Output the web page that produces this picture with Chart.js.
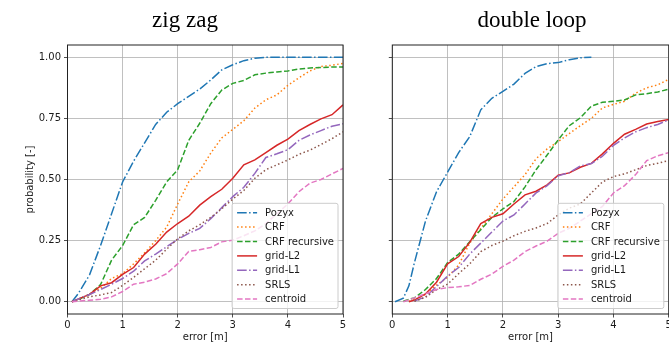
<!DOCTYPE html>
<html>
<head>
<meta charset="utf-8">
<script src="https://cdn.jsdelivr.net/npm/chart.js@4.4.1/dist/chart.umd.min.js"></script>
<style>
html,body{margin:0;padding:0;background:#fff;overflow:hidden;width:669px;height:349px;}
#wrap{position:relative;width:669px;height:349px;overflow:hidden;background:#fff;}
.box{position:absolute;top:0;}
.ttl{position:absolute;top:8px;width:200px;text-align:center;font-family:'Liberation Serif','Times New Roman',serif;font-size:23px;line-height:23px;color:#000;white-space:nowrap;}
</style>
</head>
<body>
<div id="wrap">
  <div class="box" style="left:0;width:350px;height:349px"><canvas id="c1" width="350" height="349"></canvas></div>
  <div class="box" style="left:350px;width:330px;height:349px"><canvas id="c2" width="330" height="349"></canvas></div>
  <div class="ttl" style="left:85px">zig zag</div>
  <div class="ttl" style="left:432px">double loop</div>
</div>
<script>
// ---------- data ----------
const seriesNames = ['Pozyx', 'CRF', 'CRF recursive', 'grid-L2', 'grid-L1', 'SRLS', 'centroid'];
const xTicks = [0, 1, 2, 3, 4, 5];
const xTickLabels = ['0', '1', '2', '3', '4', '5'];
const yTicks = [0, 0.25, 0.5, 0.75, 1.0];
const yTickLabels = ['0.00', '0.25', '0.50', '0.75', '1.00'];

// zig zag (left panel)
const zigzagError = [0.08,0.2,0.4,0.6,0.8,1.0,1.2,1.4,1.6,1.8,2.0,2.2,2.4,2.6,2.8,3.0,3.2,3.4,3.6,3.8,4.0,4.2,4.4,4.6,4.8,5.0];
const zigzagPozyx    = [0,0.035,0.11,0.23,0.36,0.49,0.575,0.65,0.725,0.775,0.81,0.84,0.87,0.907,0.948,0.969,0.986,0.996,1,1,1,1,1,1,1,1];
const zigzagCRF      = [0,0.01,0.03,0.055,0.095,0.115,0.155,0.2,0.25,0.305,0.40,0.49,0.535,0.608,0.67,0.705,0.74,0.792,0.826,0.846,0.885,0.916,0.944,0.962,0.967,0.975];
const zigzagCRFrec   = [0,0.01,0.03,0.07,0.17,0.23,0.315,0.345,0.415,0.49,0.54,0.66,0.73,0.81,0.866,0.893,0.905,0.928,0.935,0.94,0.944,0.952,0.956,0.958,0.96,0.96];
const zigzagGridL2   = [0,0.012,0.03,0.065,0.078,0.112,0.14,0.195,0.235,0.285,0.32,0.35,0.395,0.43,0.46,0.505,0.56,0.58,0.61,0.64,0.665,0.70,0.725,0.748,0.765,0.805];
const zigzagGridL1   = [0,0.012,0.03,0.05,0.072,0.095,0.125,0.167,0.195,0.225,0.255,0.28,0.30,0.34,0.385,0.43,0.468,0.525,0.59,0.605,0.622,0.66,0.682,0.70,0.718,0.728];
const zigzagSRLS     = [0,0.008,0.02,0.028,0.038,0.067,0.10,0.135,0.17,0.215,0.257,0.29,0.315,0.345,0.38,0.42,0.455,0.505,0.54,0.56,0.58,0.603,0.62,0.643,0.667,0.695];
const zigzagCentroid = [0,0.003,0.006,0.01,0.02,0.042,0.072,0.08,0.093,0.115,0.155,0.206,0.213,0.222,0.245,0.252,0.27,0.29,0.32,0.36,0.40,0.45,0.485,0.50,0.523,0.545];

// double loop (right panel)
const loopError = [0.05,0.2,0.3,0.4,0.6,0.8,1.0,1.2,1.4,1.6,1.8,2.0,2.2,2.4,2.6,2.8,3.0,3.2,3.4,3.6,3.8,4.0,4.2,4.4,4.6,4.8,5.0];
const loopPozyx    = [0,0.015,0.065,0.16,0.33,0.45,0.53,0.61,0.675,0.785,0.832,0.86,0.89,0.934,0.962,0.974,0.978,0.99,0.998,1.0,null,null,null,null,null,null,null];
const loopCRF      = [null,null,0.002,0.008,0.03,0.068,0.10,0.15,0.24,0.30,0.36,0.42,0.47,0.52,0.585,0.625,0.655,0.688,0.72,0.75,0.793,0.807,0.82,0.853,0.875,0.887,0.91];
const loopCRFrec   = [null,0.002,0.01,0.016,0.05,0.095,0.16,0.195,0.245,0.295,0.345,0.38,0.41,0.47,0.54,0.60,0.662,0.72,0.752,0.80,0.816,0.82,0.825,0.846,0.851,0.858,0.869];
const loopGridL2   = [null,null,0.0,0.007,0.032,0.08,0.155,0.185,0.243,0.32,0.345,0.36,0.40,0.437,0.452,0.478,0.518,0.527,0.55,0.566,0.605,0.648,0.685,0.705,0.727,0.737,0.745];
const loopGridL1   = [null,null,null,0.003,0.02,0.062,0.105,0.14,0.195,0.24,0.285,0.33,0.355,0.40,0.445,0.475,0.515,0.528,0.555,0.565,0.595,0.64,0.67,0.695,0.712,0.725,0.744];
const loopSRLS     = [null,null,null,0.002,0.018,0.05,0.072,0.115,0.155,0.205,0.23,0.248,0.27,0.288,0.302,0.32,0.355,0.383,0.40,0.445,0.49,0.512,0.523,0.54,0.557,0.566,0.578];
const loopCentroid = [null,0.0,0.008,0.016,0.033,0.05,0.058,0.061,0.067,0.092,0.113,0.145,0.17,0.205,0.228,0.248,0.28,0.30,0.33,0.36,0.39,0.445,0.475,0.52,0.577,0.597,0.61];

// ---------- styles ----------
const colors = ['#1f77b4','#ff7f0e','#2ca02c','#d62728','#9467bd','#8c564b','#e377c2'];
const dashes = [[9.6,2.4,1.5,2.4],[1.5,2.5],[5.5,2.4],[],[9.6,2.4,1.5,2.4],[1.5,2.5],[5.5,2.4]];
const TEXT = '#1a1a1a';

Chart.defaults.font.family = "'DejaVu Sans', sans-serif";
Chart.defaults.font.size = 10;
Chart.defaults.color = TEXT;

function buildDatasets(series) {
  return series.map((d, i) => ({
    label: seriesNames[i],
    data: d,
    borderColor: colors[i],
    backgroundColor: colors[i],
    borderWidth: 1.5,
    borderDash: dashes[i],
    pointRadius: 0,
    pointHoverRadius: 0,
    tension: 0,
    fill: false,
    spanGaps: false,
    order: series.length - i
  }));
}

const frameLegendPlugin = {
  id: 'frameLegend',
  afterDatasetsDraw(chart) {
    const ctx = chart.ctx, a = chart.chartArea;
    ctx.save();
    // axes frame (spines)
    ctx.strokeStyle = '#222';
    ctx.lineWidth = 1;
    ctx.setLineDash([]);
    ctx.strokeRect(a.left, a.top, a.right - a.left, a.bottom - a.top);
    // legend (matplotlib style, lower right)
    const items = chart.data.datasets;
    ctx.font = "10px 'DejaVu Sans', sans-serif";
    let tw = 0;
    items.forEach(d => { tw = Math.max(tw, ctx.measureText(d.label).width); });
    const padL = 5, padR = 4, hl = 20, htp = 8, rowH = 14.4, edge = 9.4;
    const w = padL + hl + htp + tw + padR;
    const h = edge * 2 + rowH * (items.length - 1);
    const x0 = a.right - 5 - w, y0 = a.bottom - 5.5 - h, r = 2;
    ctx.beginPath();
    ctx.moveTo(x0 + r, y0);
    ctx.lineTo(x0 + w - r, y0); ctx.arcTo(x0 + w, y0, x0 + w, y0 + r, r);
    ctx.lineTo(x0 + w, y0 + h - r); ctx.arcTo(x0 + w, y0 + h, x0 + w - r, y0 + h, r);
    ctx.lineTo(x0 + r, y0 + h); ctx.arcTo(x0, y0 + h, x0, y0 + h - r, r);
    ctx.lineTo(x0, y0 + r); ctx.arcTo(x0, y0, x0 + r, y0, r);
    ctx.closePath();
    ctx.fillStyle = 'rgba(255,255,255,0.8)';
    ctx.fill();
    ctx.strokeStyle = '#cccccc';
    ctx.lineWidth = 1;
    ctx.stroke();
    items.forEach((d, i) => {
      const cy = y0 + edge + i * rowH;
      ctx.beginPath();
      ctx.setLineDash(d.borderDash || []);
      ctx.strokeStyle = d.borderColor;
      ctx.lineWidth = d.borderWidth;
      ctx.moveTo(x0 + padL, cy);
      ctx.lineTo(x0 + padL + hl, cy);
      ctx.stroke();
      ctx.setLineDash([]);
      ctx.fillStyle = TEXT;
      ctx.textBaseline = 'middle';
      ctx.textAlign = 'left';
      ctx.fillText(d.label, x0 + padL + hl + htp, cy + 0.5);
    });
    ctx.restore();
  }
};

function makeChart(id, labels, series, cfg) {
  return new Chart(document.getElementById(id), {
    type: 'line',
    data: { labels: labels, datasets: buildDatasets(series) },
    options: {
      responsive: false,
      animation: false,
      events: [],
      layout: { padding: { left: 0, right: cfg.padRight, top: 45, bottom: 0 } },
      plugins: { legend: { display: false }, tooltip: { enabled: false }, title: { display: false } },
      scales: {
        x: {
          type: 'linear', min: 0, max: 5,
          afterBuildTicks: s => { s.ticks = xTicks.map(v => ({ value: v })); },
          afterFit: s => { s.height = 35; },
          ticks: { callback: (v, i) => xTickLabels[i], padding: 2, maxRotation: 0, autoSkip: false, color: TEXT },
          grid: { color: '#b0b0b0', lineWidth: 0.8, drawTicks: true, tickLength: 3.5, tickColor: '#222', tickWidth: 0.8 },
          border: { display: false },
          title: { display: true, text: 'error [m]', color: TEXT, font: { size: 10 }, padding: { top: 0, bottom: 5.5 } }
        },
        y: {
          type: 'linear', min: -0.05, max: 1.05,
          afterBuildTicks: s => { s.ticks = yTicks.map(v => ({ value: v })); },
          afterFit: s => { s.width = cfg.yWidth; },
          ticks: { display: cfg.yLabels, callback: (v, i) => yTickLabels[i], padding: 3, autoSkip: false, color: TEXT },
          grid: { color: '#b0b0b0', lineWidth: 0.8, drawTicks: true, tickLength: 3.5, tickColor: '#222', tickWidth: 0.8 },
          border: { display: false },
          title: { display: cfg.yLabels, text: 'probability [-]', color: TEXT, font: { size: 10 }, padding: { top: 24, bottom: 0 } }
        }
      }
    },
    plugins: [frameLegendPlugin]
  });
}

makeChart('c1', zigzagError,
  [zigzagPozyx, zigzagCRF, zigzagCRFrec, zigzagGridL2, zigzagGridL1, zigzagSRLS, zigzagCentroid],
  { padRight: 7, yWidth: 67.5, yLabels: true });

makeChart('c2', loopError,
  [loopPozyx, loopCRF, loopCRFrec, loopGridL2, loopGridL1, loopSRLS, loopCentroid],
  { padRight: 11.2, yWidth: 42.3, yLabels: false });
</script>
</body>
</html>
